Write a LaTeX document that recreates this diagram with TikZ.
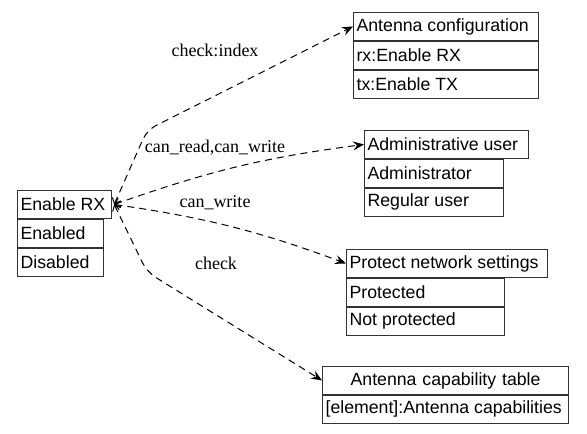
\documentclass[tikz,border=0pt]{standalone}
\usepackage{fontspec}
\setmainfont{Liberation Serif}
\setsansfont{Liberation Sans}
\usetikzlibrary{positioning,arrows.meta}

\begin{document}
\begin{tikzpicture}[x=1pt,y=-1pt,
    cell/.style={draw=black!80, line width=1.2pt, font=\sffamily\fontsize{17.7}{20}\selectfont,
        minimum height=27.7pt, inner xsep=3pt, inner ysep=0pt, align=flush left, anchor=north west},
    lbl/.style={font=\fontsize{18}{20}\selectfont},
    dep/.style={dash pattern=on 7pt off 5pt, line width=1pt,
        {Straight Barb[length=5pt,width=9pt]}-{Stealth[length=11pt,width=9pt,inset=4pt]}}]
    \useasboundingbox (0,0) rectangle (587,434);
    % enable rx
    \node[cell, text width=88pt] (rxhead) at (17,190) {Enable RX};
    \node[cell, text width=80pt, below=0pt of rxhead.south west, anchor=north west] (rxon) {Enabled};
    \node[cell, text width=80pt, below=0pt of rxon.south west, anchor=north west] (rxoff) {Disabled};
    % antenna configuration
    \node[cell, text width=179pt] (antcfg) at (353,12) {Antenna configuration};
    \node[cell, text width=179pt, below=0pt of antcfg.south west, anchor=north west] (antrx) {rx:Enable RX};
    \node[cell, text width=179pt, below=0pt of antrx.south west, anchor=north west] (anttx) {tx:Enable TX};
    % administrative user
    \node[cell, text width=158pt] (admin) at (364,130) {Administrative user};
    \node[cell, text width=133pt, below=0pt of admin.south west, anchor=north west] (adminyes) {Administrator};
    \node[cell, text width=133pt, below=0pt of adminyes.south west, anchor=north west] (adminno) {Regular user};
    % protect network settings
    \node[cell, text width=195pt] (protect) at (346,249) {Protect network settings};
    \node[cell, text width=152pt, below=0pt of protect.south west, anchor=north west] (protyes) {Protected};
    \node[cell, text width=152pt, below=0pt of protyes.south west, anchor=north west] (protno) {Not protected};
    % antenna capability table
    \node[cell, text width=240pt, align=center] (captbl) at (322,366) {Antenna capability table};
    \node[cell, text width=240pt, below=0pt of captbl.south west, anchor=north west] (capelem) {[element]:Antenna capabilities};

    \coordinate (bendup) at (147,130);
    \coordinate (benddown) at (147,272);
    \draw[dep, rounded corners=10pt] ([xshift=2pt]rxhead.east) -- (bendup) -- (antcfg.west);
    \draw[dep] ([xshift=2pt]rxhead.east) to[bend left=6] (admin.west);
    \draw[dep] ([xshift=2pt]rxhead.east) to[bend left=6] (protect.west);
    \draw[dep, rounded corners=10pt] ([xshift=2pt]rxhead.east) -- (benddown) -- (captbl.west);

    \node[lbl] (lblidx) at (215,50) {check:index};
    \node[lbl] (lblrw) at (215,148) {can\_read,can\_write};
    \node[lbl] (lblw) at (215,203) {can\_write};
    \node[lbl] (lblchk) at (216,263) {check};
\end{tikzpicture}
\end{document}
